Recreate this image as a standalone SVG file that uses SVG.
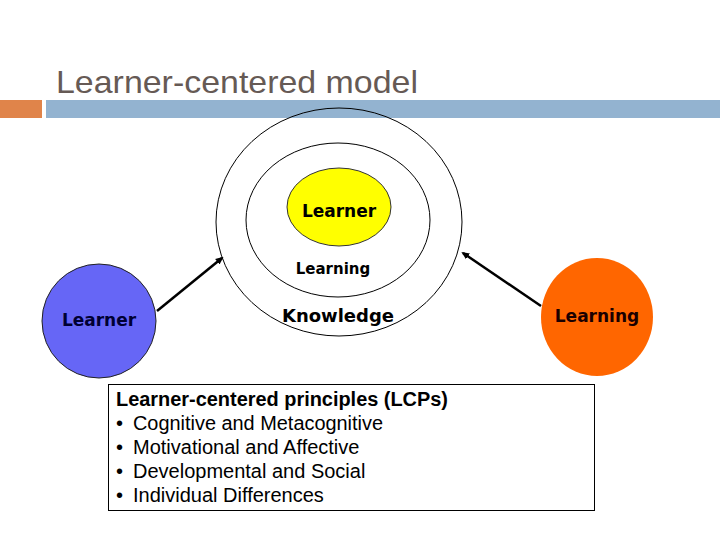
<svg xmlns="http://www.w3.org/2000/svg" width="720" height="540" viewBox="0 0 720 540">
<style>
.ring{fill:none;stroke:#000;stroke-width:1}
.lbl{font-family:"DejaVu Sans",Verdana,sans-serif;font-weight:bold;text-anchor:middle}
.box{font-family:"Liberation Sans",Arial,sans-serif;font-size:20px;fill:#000}
.conn{stroke:#000;stroke-width:2.5;fill:none;marker-end:url(#ah)}
</style>
<defs>
<marker id="ah" markerWidth="8" markerHeight="8" refX="6" refY="4" orient="auto" markerUnits="userSpaceOnUse">
<path d="M0,0.5 L8,4 L0,7.5 Z" fill="#000"/>
</marker>
</defs>
<rect width="720" height="540" fill="#fff"/>
<text x="56" y="93" font-family="Liberation Sans,Arial,sans-serif" font-size="32" fill="#665a55" textLength="362" lengthAdjust="spacingAndGlyphs">Learner-centered model</text>
<rect x="0" y="100" width="42" height="18" fill="#e0844a"/>
<rect x="46" y="100" width="674" height="18" fill="#93b3d0"/>
<g id="knowledge">
<ellipse class="ring" cx="339" cy="222" rx="123" ry="114"/>
<text class="lbl" x="338" y="322" font-size="18">Knowledge</text>
</g>
<g id="learning-ring">
<ellipse class="ring" cx="338" cy="220" rx="92" ry="77"/>
<text class="lbl" x="333" y="274" font-size="15">Learning</text>
</g>
<g id="learner-core">
<ellipse cx="339" cy="207" rx="52" ry="39" fill="#ffff00" stroke="#333" stroke-width="1"/>
<text class="lbl" x="339" y="217" font-size="17">Learner</text>
</g>
<g id="learner">
<circle cx="99" cy="321" r="57" fill="#6666f6" stroke="#222" stroke-width="1"/>
<text class="lbl" x="99" y="326" font-size="17" fill="#000033">Learner</text>
</g>
<g id="learning">
<ellipse cx="597" cy="317" rx="56" ry="59" fill="#ff6600"/>
<text class="lbl" x="597" y="322" font-size="17" fill="#1a0000">Learning</text>
</g>
<g id="connectors">
<line class="conn" x1="157" y1="311" x2="222" y2="258"/>
<line class="conn" x1="541" y1="306" x2="463" y2="253"/>
</g>
<g id="lcps">
<rect x="108.5" y="384.5" width="486" height="126" fill="#fff" stroke="#000" stroke-width="1"/>
<text class="box" x="116" y="406" font-weight="bold" textLength="332" lengthAdjust="spacingAndGlyphs">Learner-centered principles (LCPs)</text>
<text class="box" x="116" y="430">•</text><text class="box" x="133" y="430" textLength="250" lengthAdjust="spacingAndGlyphs">Cognitive and Metacognitive</text>
<text class="box" x="116" y="454">•</text><text class="box" x="133" y="454">Motivational and Affective</text>
<text class="box" x="116" y="478">•</text><text class="box" x="133" y="478">Developmental and Social</text>
<text class="box" x="116" y="502">•</text><text class="box" x="133" y="502">Individual Differences</text>
</g>
</svg>
